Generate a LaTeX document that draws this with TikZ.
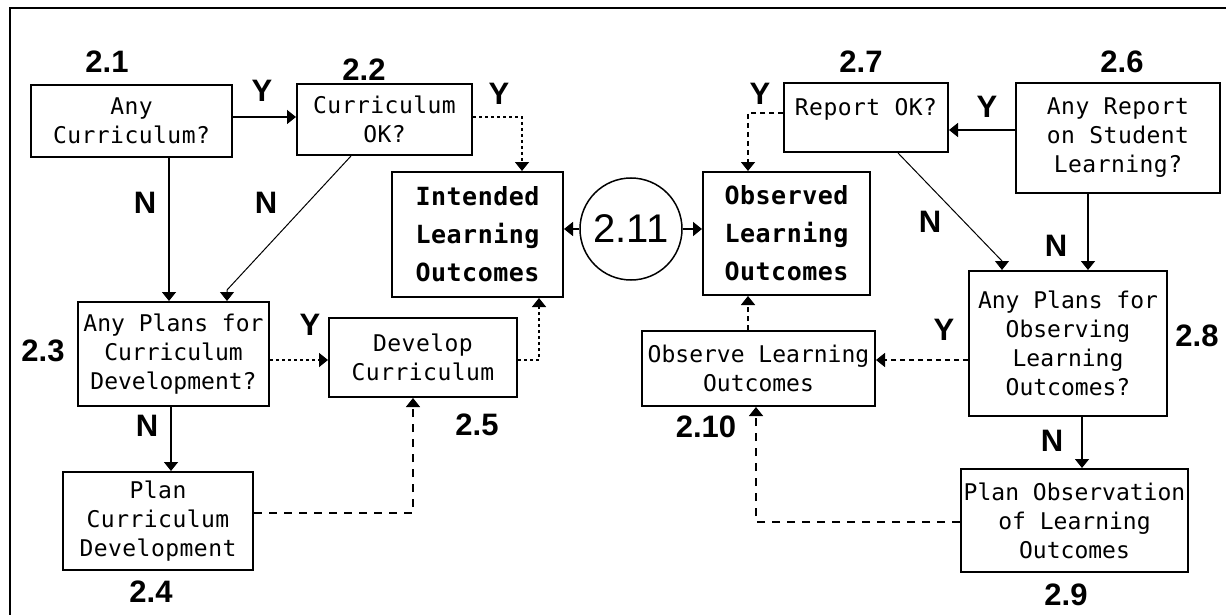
\documentclass[tikz,border=0pt]{standalone}
\usepackage{fontspec}
\usetikzlibrary{arrows.meta}
\newfontfamily\boxfont[LetterSpace=2]{DejaVu Sans Mono}
\newfontfamily\tightboxfont{DejaVu Sans Mono}
\newfontfamily\labfont{Liberation Sans}

\begin{document}
\begin{tikzpicture}[x=1pt,y=-1pt,
  box/.style={draw, line width=2pt, inner sep=0pt, align=center,
    font=\boxfont\fontsize{23}{29}\selectfont},
  tightbox/.style={box, font=\tightboxfont\fontsize{23}{29}\selectfont},
  bigbox/.style={box, font=\boxfont\bfseries\fontsize{25}{38}\selectfont},
  lab/.style={inner sep=0pt, font=\labfont\bfseries\fontsize{31}{31}\selectfont},
  flow/.style={line width=1.6pt, -{Triangle[width=14pt,length=9pt]}},
  thinflow/.style={flow, line width=1pt},
  dots/.style={flow, dash pattern=on 3pt off 3pt},
  shortdash/.style={flow, dash pattern=on 5pt off 4pt},
  longdash/.style={flow, dash pattern=on 8pt off 7pt}]

\useasboundingbox (0,0) rectangle (1226,615);
\fill[white] (0,0) rectangle (1226,615);

% outer frame
\draw[line width=2pt] (10,615) -- (10,8) -- (1226,8);

% left half: curriculum
\node[box, minimum width=201pt, minimum height=72pt] (b21) at (131.5,121) {Any\\Curriculum?};
\node[box, minimum width=175pt, minimum height=71pt] (b22) at (384.5,119.5) {Curriculum\\OK?};
\node[tightbox, minimum width=191pt, minimum height=104pt] (b23) at (173.5,354) {Any Plans for\\Curriculum\\Development?};
\node[box, minimum width=190pt, minimum height=98pt] (b24) at (158,521) {Plan\\Curriculum\\Development};
\node[box, minimum width=188pt, minimum height=79pt] (b25) at (423,357.5) {Develop\\Curriculum};
\node[bigbox, minimum width=171pt, minimum height=125pt] (bInt) at (477.5,234.5) {Intended\\Learning\\Outcomes};

% centre
\node[circle, draw, line width=1.5pt, minimum size=102pt, inner sep=0pt,
  font=\labfont\fontsize{40}{40}\selectfont] (c211) at (631,229) {2.11};

% right half: observation
\node[bigbox, minimum width=167pt, minimum height=123pt] (bObs) at (786.5,233.5) {Observed\\Learning\\Outcomes};
\node[box, minimum width=164pt, minimum height=69pt] (b27) at (866,117.5) {\raisebox{8pt}[\height][\depth]{Report OK?}};
\node[box, minimum width=204pt, minimum height=110pt] (b26) at (1118,138) {Any Report\\on Student\\Learning?};
\node[tightbox, minimum width=198pt, minimum height=145pt] (b28) at (1068,343.5) {Any Plans for\\Observing\\Learning\\Outcomes?};
\node[tightbox, minimum width=233pt, minimum height=75pt] (b210) at (758.5,368.5) {Observe Learning\\Outcomes};
\node[tightbox, minimum width=227pt, minimum height=103pt] (b29) at (1074.5,520.5) {Plan Observation\\of Learning\\Outcomes};

% step numbers
\node[lab] (l21) at (107,62) {2.1};
\node[lab] (l22) at (364,70) {2.2};
\node[lab] (l23) at (43,351) {2.3};
\node[lab] (l24) at (151,592) {2.4};
\node[lab] (l25) at (477,425) {2.5};
\node[lab] (l26) at (1122,62) {2.6};
\node[lab] (l27) at (861,62) {2.7};
\node[lab] (l28) at (1197,336) {2.8};
\node[lab] (l29) at (1066,595) {2.9};
\node[lab] (l210) at (706,427) {2.10};

% yes / no marks
\node[lab] (y1) at (262,91) {Y};
\node[lab] (y2) at (499,94) {Y};
\node[lab] (y3) at (760,94) {Y};
\node[lab] (y4) at (987,107) {Y};
\node[lab] (y5) at (310,325) {Y};
\node[lab] (y6) at (944,330) {Y};
\node[lab] (n1) at (145,203) {N};
\node[lab] (n2) at (266,203) {N};
\node[lab] (n3) at (147,426) {N};
\node[lab] (n4) at (930,222) {N};
\node[lab] (n5) at (1056,246) {N};
\node[lab] (n6) at (1052,441) {N};

% connectors, left
\draw[flow] (b21.east |- 0,117) -- (b22.west |- 0,117);
\draw[dots] (b22.east |- 0,117) -| (bInt.north -| 522,0);
\draw[flow] (b21.south -| 169,0) -- (b23.north -| 169,0);
\draw[thinflow] (b22.south -| 351,0) -- (227,290) -- (b23.north -| 227,0);
\draw[dots] (b23.east |- 0,360) -- (b25.west |- 0,360);
\draw[dots] (b25.east |- 0,360) -| (bInt.south -| 539,0);
\draw[flow] (b23.south -| 171,0) -- (b24.north -| 171,0);
\draw[longdash] (b24.east |- 0,513) -| (b25.south -| 413,0);

% connectors, centre
\draw[flow] (c211.west) -- (bInt.east |- c211.west);
\draw[flow] (c211.east) -- (bObs.west |- c211.east);

% connectors, right
\draw[flow] (b26.west |- 0,130) -- (b27.east |- 0,130);
\draw[shortdash] (b27.west |- 0,113) -| (bObs.north -| 748,0);
\draw[thinflow] (b27.south -| 898,0) -- (1002,261) -- (b28.north -| 1002,0);
\draw[flow] (b26.south -| 1088,0) -- (b28.north -| 1088,0);
\draw[shortdash] (b28.west |- 0,360) -- (b210.east |- 0,360);
\draw[shortdash] (b210.north -| 748,0) -- (bObs.south -| 748,0);
\draw[flow] (b28.south -| 1082,0) -- (b29.north -| 1082,0);
\draw[longdash] (b29.west |- 0,522) -| (b210.south -| 756,0);

\end{tikzpicture}
\end{document}
